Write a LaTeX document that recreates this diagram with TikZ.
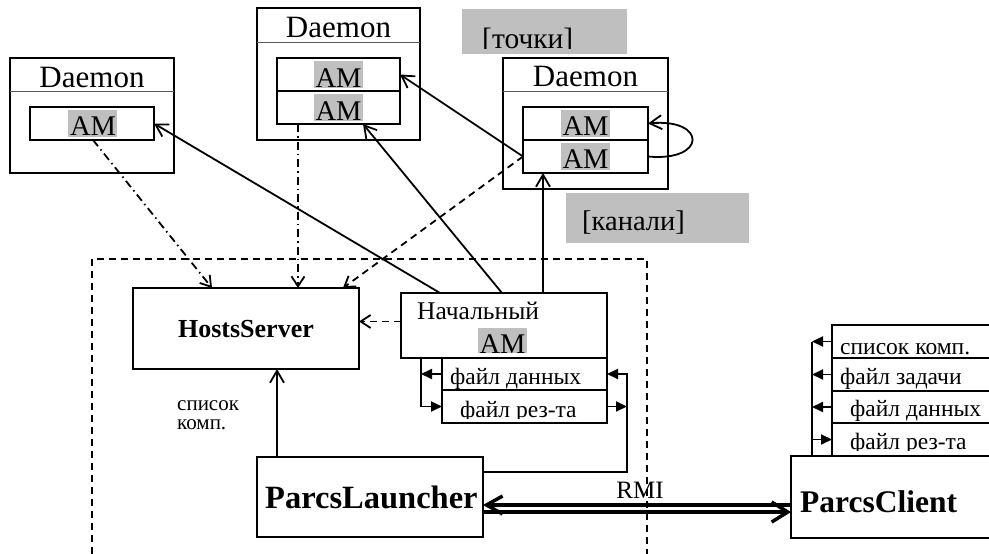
\documentclass[tikz,border=0pt]{standalone}
\usepackage{fontspec}
\setmainfont{Liberation Serif}
\usetikzlibrary{arrows.meta}
\begin{document}
\begin{tikzpicture}[x=1pt,y=-1pt,
  bx/.style={draw, line width=1.8pt, inner sep=0pt, outer sep=0pt, anchor=north west},
  hlbox/.style={fill=gray!50, draw=none, inner sep=0pt, outer sep=0pt, anchor=north west, minimum width=49pt, minimum height=27pt},
  lw/.style={line width=1.8pt},
  sep/.style={draw=gray!70!black, line width=0.9pt},
  dtitle/.style={anchor=base, inner sep=0pt, font=\fontsize{31}{35}\selectfont},
  amtext/.style={anchor=base, inner sep=0pt, font=\fontsize{28.5}{32}\selectfont},
  ftext/.style={anchor=base west, inner sep=0pt, font=\fontsize{23.5}{26}\selectfont},
  smalltext/.style={anchor=base west, inner sep=0pt, font=\fontsize{21}{22}\selectfont},
  big/.style={anchor=base west, inner sep=0pt, font=\fontsize{31.5}{36}\selectfont\bfseries},
  openarr/.style={-{Straight Barb[length=12pt,width=14pt]}},
  smallopen/.style={-{Straight Barb[length=10pt,width=13pt]}},
  filarr/.style={-{Triangle[length=11pt,width=10pt]}},
  dashline/.style={dash pattern=on 7pt off 5pt},
  dashdot/.style={dash pattern=on 8pt off 4pt on 1.5pt off 4pt}]
\useasboundingbox (0,0) rectangle (989,554);
\clip (0,0) rectangle (989,554);
\fill[white] (0,0) rectangle (989,554);

% ---------- Daemon 1 ----------
\node[bx, minimum width=164pt, minimum height=115pt] (d1) at (10,58) {};
\draw[sep] (10,91) -- (174,91);
\node[dtitle] (d1t) at (92,87) {Daemon};
\node[hlbox] (d1h) at (68,110) {};
\node[bx, minimum width=124pt, minimum height=33pt] (d1am) at (30,107) {};
\node[amtext] (d1a) at (93,135) {AM};

% ---------- Daemon 2 ----------
\node[bx, minimum width=163pt, minimum height=132pt] (d2) at (257,8) {};
\draw[sep] (257,42) -- (420,42);
\node[dtitle] (d2t) at (338.5,37) {Daemon};
\node[hlbox] (d2h1) at (314,61) {};
\node[hlbox] (d2h2) at (314,94) {};
\node[bx, minimum width=123pt, minimum height=33pt] (d2a) at (277,58) {};
\node[bx, minimum width=123pt, minimum height=33pt] (d2b) at (277,91) {};
\node[amtext] (d2at) at (338.5,87) {AM};
\node[amtext] (d2bt) at (338.5,120) {AM};

% ---------- Daemon 3 ----------
\node[bx, minimum width=165pt, minimum height=131pt] (d3) at (503,58) {};
\draw[sep] (503,91) -- (668,91);
\node[dtitle] (d3t) at (585.5,86) {Daemon};
\node[hlbox] (d3h1) at (561,110) {};
\node[hlbox] (d3h2) at (561,143) {};
\node[bx, minimum width=125pt, minimum height=33pt] (d3a) at (523,107) {};
\node[bx, minimum width=125pt, minimum height=33pt] (d3b) at (523,140) {};
\node[amtext] (d3at) at (585.5,135) {AM};
\node[amtext] (d3bt) at (585.5,168) {AM};
\draw[lw, openarr] (d3b.east) .. controls (707,162) and (707,118) .. (d3a.east);

% ---------- grey labels ----------
\node[fill=gray!50, inner sep=0pt, anchor=north west, minimum width=165pt, minimum height=45pt] (tochki) at (462,9) {};
\begin{scope}
  \clip (462,9) rectangle (627,48);
  \node[anchor=base west, inner sep=0pt, font=\fontsize{29.5}{33}\selectfont] (tochkit) at (482,48) {[точки]};
\end{scope}
\node[fill=gray!50, inner sep=0pt, anchor=north west, minimum width=183pt, minimum height=50pt] (kanali) at (566,193) {};
\node[anchor=base west, inner sep=0pt, font=\fontsize{28.5}{32}\selectfont] (kanalit) at (582,230) {[канали]};

% ---------- dashed frame ----------
\draw[line width=1.5pt, dashline] (92,554) -- (92,259) -- (647,259) -- (647,554);

% ---------- HostsServer ----------
\node[bx, minimum width=226pt, minimum height=81pt] (hosts) at (133,288) {};
\node[anchor=base, inner sep=0pt, font=\fontsize{26}{30}\selectfont\bfseries] (hostst) at (246,337) {HostsServer};
\node[smalltext] (spisok1) at (177,410) {список};
\node[smalltext] (spisok2) at (177,429) {комп.};

% ---------- Начальный AM ----------
\node[bx, minimum width=206pt, minimum height=65pt] (nach) at (401,293) {};
\node[anchor=base west, inner sep=0pt, font=\fontsize{25.5}{29}\selectfont] (nacht) at (417,319) {Начальный};
\node[hlbox, minimum height=25pt] (nachh) at (478,328) {};
\node[amtext] (nacha) at (502.5,353) {AM};
\node[bx, minimum width=165pt, minimum height=32pt] (fd) at (442,358) {};
\node[ftext] (fdt) at (450,384) {файл данных};
\node[bx, minimum width=165pt, minimum height=33pt] (fr) at (442,390) {};
\begin{scope}
  \clip (442,390) rectangle (607,418);
  \node[ftext] (frt) at (460,417) {файл рез-та};
\end{scope}

% ---------- ParcsLauncher ----------
\node[bx, minimum width=226pt, minimum height=80pt] (launch) at (257,457) {};
\node[big, font=\fontsize{32.5}{37}\selectfont\bfseries] (launcht) at (265,508) {ParcsLauncher};

% ---------- ParcsClient ----------
\node[bx, minimum width=215pt, minimum height=82pt] (client) at (791,456) {};
\node[big] (clientt) at (800,512) {ParcsClient};
\node[bx, minimum width=163pt, minimum height=33pt] (f1) at (832,325) {};
\node[bx, minimum width=163pt, minimum height=33pt] (f2) at (832,358) {};
\node[bx, minimum width=163pt, minimum height=32pt] (f3) at (832,391) {};
\node[bx, minimum width=163pt, minimum height=33pt] (f4) at (832,423) {};
\node[ftext] (f1t) at (840,354) {список комп.};
\node[ftext] (f2t) at (840,384) {файл задачи};
\node[ftext] (f3t) at (850,416) {файл данных};
\begin{scope}
  \clip (832,423) rectangle (995,450);
  \node[ftext] (f4t) at (850,449) {файл рез-та};
\end{scope}

% ---------- connectors ----------
% from Начальный AM to daemons
\draw[lw, openarr] ([xshift=39pt]nach.north west) -- (d1am.east);
\draw[lw, openarr] ([xshift=101pt]nach.north west) -- ([xshift=24.5pt]d2b.south);
\draw[lw, openarr] ([xshift=142pt]nach.north west) -- ([xshift=142pt]nach.north west |- d3b.south);
\draw[lw, openarr] (d3b.west) -- (d2a.east);
% to HostsServer
\draw[lw, smallopen, dashline] (d3b.west) -- ([xshift=-16pt]hosts.north east);
\draw[lw, smallopen, dashdot] ([xshift=1pt]d1am.south) -- ([xshift=79pt]hosts.north west);
\draw[lw, smallopen, dashdot] ([xshift=21pt]d2b.south west) -- ([xshift=165pt]hosts.north west);
\draw[lw, smallopen, dashline] ([yshift=4pt]nach.west) -- ([yshift=4pt]nach.west -| hosts.east);
\draw[lw, openarr] ([xshift=20pt]launch.north west) -- ([xshift=20pt]launch.north west |- hosts.south);
% file links near Начальный AM
\draw[lw, filarr] ([xshift=20pt]nach.south west) |- (fr.west);
\draw[lw, filarr] (fd.west) -- ([xshift=-21pt]fd.west);
\draw[lw, filarr] ([yshift=25pt]launch.east) -| ([xshift=20pt]fd.east) -- (fd.east);
\draw[lw, filarr] (fr.east) -- ([xshift=20pt]fr.east);
% file links near ParcsClient
\draw[lw] ([xshift=-20pt]f1.west) -- ([xshift=-20pt]f1.west |- client.north);
\draw[lw, filarr] (f1.west) -- ([xshift=-20pt]f1.west);
\draw[lw, filarr] (f2.west) -- ([xshift=-20pt]f2.west);
\draw[lw, filarr] (f3.west) -- ([xshift=-20pt]f3.west);
\draw[lw, filarr] ([xshift=-20pt]f4.west) -- (f4.west);
% RMI
\draw[line width=3.5pt, -{Straight Barb[length=16pt,width=18pt]}] ([yshift=-8pt]launch.east -| client.west) -- ([yshift=-8pt]launch.east);
\draw[line width=3.5pt, -{Straight Barb[length=16pt,width=20pt]}] ([yshift=-15pt]launch.east) -- ([yshift=-15pt]launch.east -| client.west);
\node[anchor=base, inner sep=0pt, font=\fontsize{25}{28}\selectfont] (rmi) at (640,498) {RMI};
\end{tikzpicture}
\end{document}
